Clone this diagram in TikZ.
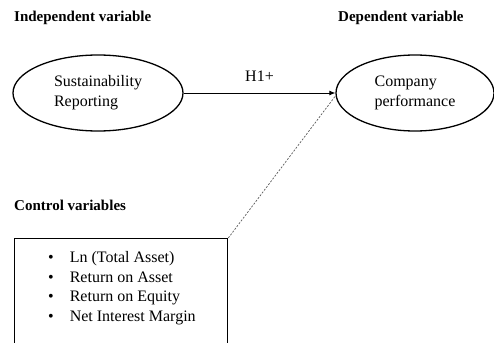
\documentclass[tikz,border=0pt]{standalone}
\usepackage{fontspec}
\setmainfont{Liberation Serif}
\usetikzlibrary{shapes.geometric, arrows.meta}

\tikzset{
  heading/.style={font=\fontsize{15}{18}\selectfont\bfseries, anchor=west, inner sep=0pt},
  varell/.style={ellipse, draw, line width=1.3pt, minimum width=170pt, minimum height=76pt,
                 align=left, font=\fontsize{16}{20}\selectfont},
  listtext/.style={font=\fontsize{16}{19.5}\selectfont, anchor=north west, inner sep=0pt}
}

\begin{document}
\begin{tikzpicture}[x=1pt, y=-1pt]
    \useasboundingbox (0,0) rectangle (494,342);

    % ---------- headings ----------
    \node[heading] (indep) at (14,18) {Independent variable};
    \node[heading] (dep) at (338,18) {Dependent variable};
    \node[heading] (ctrlhead) at (14,205) {Control variables};

    % ---------- variables ----------
    \node[varell] (sr) at (98,93) {Sustainability\\Reporting};
    \node[varell, minimum width=158pt, minimum height=76pt] (cp) at (415,93) {Company\\performance};

    % hypothesis arrow
    \draw[-{Latex[length=6pt, width=5pt]}, line width=0.8pt] (sr.east) -- (cp.west)
      node[midway, above=8pt, font=\fontsize{16}{19}\selectfont] (h1) {H1+};

    % ---------- control variables box ----------
    \node[draw, line width=1.3pt, anchor=north west, minimum width=213pt, minimum height=125pt,
          inner sep=0pt] (ctrl) at (14,238) {};
    \node[listtext] (items) at (48,249) {%
      \begin{tabular}{@{}l@{\hspace{16pt}}l@{}}
        \textbullet & Ln (Total Asset)\\
        \textbullet & Return on Asset\\
        \textbullet & Return on Equity\\
        \textbullet & Net Interest Margin
      \end{tabular}};

    % dotted link to the dependent variable
    \draw[gray!70!black, dash pattern=on 2pt off 1.5pt, line width=0.7pt] (ctrl.north east) -- ([yshift=-3pt]cp.west);
\end{tikzpicture}
\end{document}
